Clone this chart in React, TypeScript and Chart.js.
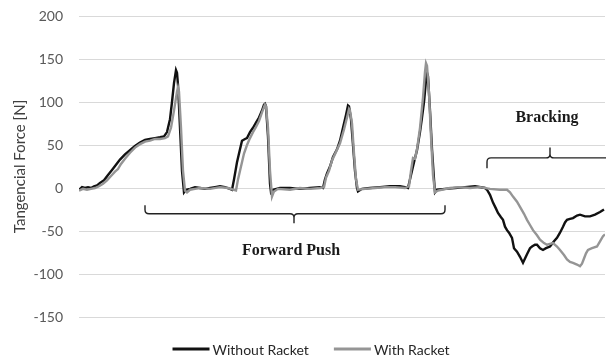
import React, { useEffect, useRef } from "react";
import { Chart, registerables } from "chart.js";

Chart.register(...registerables);

// time axis in samples (0 .. 526), force in N
const timeWithout = [
  0, 3, 6, 9, 12, 15, 18, 21, 25, 29,
  33, 37, 41, 46, 51, 56, 61, 66, 71, 76,
  81, 85, 88, 91, 93, 95, 97, 98, 99, 101,
  103, 105, 107, 111, 116, 121, 126, 131, 136, 141,
  146, 151, 153, 155, 158, 161, 163, 166, 168, 171,
  174, 177, 180, 183, 185, 186, 187, 189, 191, 192,
  194, 201, 211, 221, 231, 241, 244, 246, 248, 251,
  254, 258, 261, 264, 267, 269, 270, 272, 274, 276,
  278, 279, 283, 291, 301, 311, 321, 326, 329, 332,
  335, 338, 341, 343, 345, 347, 348, 349, 351, 353,
  355, 356, 358, 366, 376, 386, 396, 406, 408, 411,
  414, 417, 419, 422, 424, 426, 428, 430, 433, 435,
  438, 441, 444, 446, 448, 451, 453, 456, 458, 461,
  464, 467, 471, 475, 478, 481, 484, 486, 488, 491,
  494, 498, 501, 506, 511, 516, 521, 525,
];
const forceWithout = [
  -2, 1, 0, 1, 0, 2, 3, 6, 9, 15,
  21, 27, 33, 39, 44, 49, 53, 56, 57, 58,
  59, 60, 65, 80, 100, 122, 137, 134, 120, 70,
  20, -5, -2, -1, 1, 0, -1, 0, 1, 2,
  1, -1, -2, 10, 30, 45, 55, 57, 58, 65,
  70, 76, 82, 90, 97, 98, 95, 60, 5, -5,
  -2, 0, 0, -1, 0, 1, 0, 10, 17, 25,
  36, 45, 55, 70, 85, 96, 95, 80, 50, 20,
  0, -4, -1, 0, 1, 2, 2, 1, 0, 15,
  30, 44, 65, 82, 100, 125, 134, 130, 90, 45,
  10, -5, -2, -1, 0, 1, 2, 0, -2, -8,
  -17, -24, -29, -34, -37, -45, -49, -52, -58, -70,
  -74, -80, -87, -82, -77, -70, -68, -66, -66, -70,
  -72, -70, -68, -62, -58, -52, -45, -40, -37, -36,
  -35, -32, -31, -33, -33, -31, -28, -25,
];

const timeWith = [
  0, 4, 8, 12, 16, 20, 24, 28, 32, 36,
  39, 42, 46, 51, 56, 61, 66, 71, 76, 81,
  86, 89, 92, 95, 98, 99, 100, 102, 104, 106,
  108, 111, 116, 121, 131, 141, 149, 154, 157, 159,
  162, 165, 168, 171, 174, 177, 180, 183, 186, 187,
  189, 191, 193, 195, 199, 211, 221, 231, 241, 245,
  247, 250, 253, 257, 261, 265, 268, 270, 271, 273,
  275, 277, 279, 286, 296, 306, 316, 326, 330, 332,
  334, 336, 338, 341, 344, 346, 347, 348, 350, 352,
  354, 356, 359, 371, 381, 391, 401, 411, 421, 428,
  431, 434, 438, 441, 445, 448, 451, 454, 458, 461,
  465, 468, 471, 474, 478, 481, 485, 488, 491, 494,
  498, 501, 503, 505, 507, 509, 513, 518, 521, 524,
  526,
];
const forceWith = [
  -3, -1, -2, -1, 0, 2, 5, 9, 14, 19,
  22, 28, 34, 41, 47, 51, 54, 55, 57, 57,
  58, 60, 70, 90, 112, 117, 112, 70, 20, -3,
  -5, -2, -1, 0, -1, 1, 0, -2, -3, 10,
  25, 40, 50, 58, 65, 71, 78, 88, 97, 95,
  70, 20, -10, -4, -1, -2, 0, -1, 0, 1,
  12, 20, 32, 42, 52, 68, 82, 92, 90, 75,
  40, 10, -2, -1, 0, 1, 1, 0, 2, 20,
  35, 34, 45, 70, 105, 135, 145, 142, 110, 60,
  15, -5, -3, 0, 1, 0, 1, -1, -2, -2,
  -5, -10, -16, -22, -30, -37, -43, -49, -55, -60,
  -64, -66, -65, -64, -68, -72, -78, -83, -86, -87,
  -89, -91, -88, -82, -76, -72, -70, -68, -62, -56,
  -54,
];

const yTicks = [-150, -100, -50, 0, 50, 100, 150, 200];
const seriesNames = ["Without Racket", "With Racket"];
const seriesColors = ["#111111", "#959595"];

// annotation braces, in data units
const braceLabels = ["Forward Push", "Bracking"];
const braceXStart = [66, 408];
const braceXEnd = [366, 540];
const braceXMid = [215, 471];
const braceYEnd = [-20, 23];
const braceYBar = [-30, 35];
const braceYTip = [-41, 47];
const braceLabelX = [212, 468];
const braceLabelY = [-73, 81];

const annotationPlugin = {
  id: "braces",
  afterDraw(chart: any) {
    const ctx = chart.ctx;
    const xs = chart.scales.x;
    const ys = chart.scales.y;
    ctx.save();
    for (let i = 0; i < braceLabels.length; i++) {
      const x1 = xs.getPixelForValue(braceXStart[i]);
      const x2 = xs.getPixelForValue(braceXEnd[i]);
      const xm = xs.getPixelForValue(braceXMid[i]);
      const yEnd = ys.getPixelForValue(braceYEnd[i]);
      const yBar = ys.getPixelForValue(braceYBar[i]);
      const yTip = ys.getPixelForValue(braceYTip[i]);
      const dir = yTip > yBar ? 1 : -1;
      const r = 4;
      ctx.strokeStyle = "#222222";
      ctx.lineWidth = 1.4;
      ctx.beginPath();
      ctx.moveTo(x1, yEnd);
      ctx.lineTo(x1, yBar - dir * r);
      ctx.quadraticCurveTo(x1, yBar, x1 + r, yBar);
      ctx.lineTo(xm - r, yBar);
      ctx.quadraticCurveTo(xm, yBar, xm, yBar + dir * r);
      ctx.lineTo(xm, yTip);
      ctx.moveTo(xm, yBar + dir * r);
      ctx.quadraticCurveTo(xm, yBar, xm + r, yBar);
      ctx.lineTo(x2 - r, yBar);
      ctx.quadraticCurveTo(x2, yBar, x2, yBar - dir * r);
      ctx.lineTo(x2, yEnd);
      ctx.stroke();

      ctx.fillStyle = "#1a1a1a";
      ctx.font = "bold 16px 'Liberation Serif', 'DejaVu Serif', serif";
      ctx.textAlign = "center";
      ctx.textBaseline = "middle";
      ctx.fillText(braceLabels[i], xs.getPixelForValue(braceLabelX[i]), ys.getPixelForValue(braceLabelY[i]));
    }

    // legend
    ctx.font = "14px Lato, 'Open Sans', sans-serif";
    ctx.textAlign = "left";
    ctx.textBaseline = "middle";
    const lineLen = 37;
    const gap = 3;
    const itemGap = 25;
    const widths = seriesNames.map((n) => lineLen + gap + ctx.measureText(n).width);
    const total = widths.reduce((a, b) => a + b, 0) + itemGap * (widths.length - 1);
    let x = 311 - total / 2;
    const y = chart.chartArea.bottom + 32;
    for (let i = 0; i < seriesNames.length; i++) {
      ctx.strokeStyle = seriesColors[i];
      ctx.lineWidth = 3;
      ctx.beginPath();
      ctx.moveTo(x, y);
      ctx.lineTo(x + lineLen, y);
      ctx.stroke();
      ctx.fillStyle = "#262626";
      ctx.fillText(seriesNames[i], x + lineLen + gap, y + 1);
      x += widths[i] + itemGap;
    }
    ctx.restore();
  },
};

export default function App() {
  const ref = useRef<HTMLCanvasElement | null>(null);
  useEffect(() => {
    if (!ref.current) return;
    const toPoints = (xs: number[], ys: number[]) => xs.map((x, i) => ({ x, y: ys[i] }));
    const chart = new Chart(ref.current, {
      type: "line",
      data: {
        datasets: [
          {
            label: seriesNames[1],
            data: toPoints(timeWith, forceWith),
            borderColor: seriesColors[1],
            backgroundColor: seriesColors[1],
            borderWidth: 2.4,
            pointRadius: 0,
            tension: 0,
          },
          {
            label: seriesNames[0],
            data: toPoints(timeWithout, forceWithout),
            borderColor: seriesColors[0],
            backgroundColor: seriesColors[0],
            borderWidth: 2.4,
            pointRadius: 0,
            tension: 0,
          },
        ],
      },
      options: {
        responsive: false,
        animation: false,
        devicePixelRatio: 1,
        layout: { autoPadding: false, padding: { top: 16, bottom: 43, left: 0, right: 1 } },
        plugins: { legend: { display: false }, tooltip: { enabled: false } },
        scales: {
          x: { type: "linear", min: 0, max: 526, display: false },
          y: {
            min: -150,
            max: 200,
            afterBuildTicks: (s: any) => {
              s.ticks = yTicks.map((v) => ({ value: v }));
            },
            afterFit: (s: any) => {
              s.width = 79;
              s.paddingTop = 0;
              s.paddingBottom = 0;
            },
            grid: { color: "#d9d9d9", lineWidth: 1, drawTicks: false },
            border: { display: false },
            ticks: {
              padding: 16,
              color: "#595959",
              font: { family: "Lato, 'Open Sans', sans-serif", size: 14 },
            },
            title: {
              display: true,
              text: "Tangencial Force [N]",
              color: "#404040",
              font: { family: "Lato, 'Open Sans', sans-serif", size: 15 },
              padding: { top: 11, bottom: 0 },
            },
          },
        },
      },
      plugins: [annotationPlugin],
    });
    return () => chart.destroy();
  }, []);
  return (
    <div style={{ position: "fixed", left: 0, top: 0, width: 606, height: 360, background: "#fff" }}>
      <canvas ref={ref} width={606} height={360} />
    </div>
  );
}
